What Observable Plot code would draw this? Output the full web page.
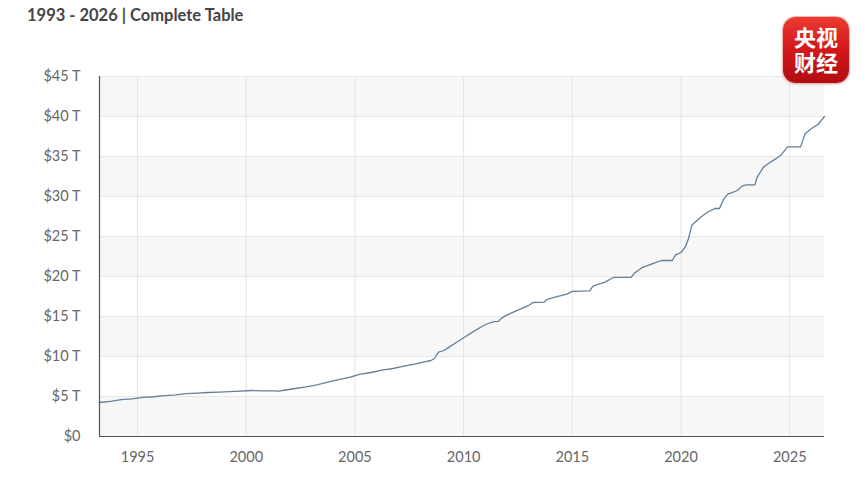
<!DOCTYPE html>
<html>
<head>
<meta charset="utf-8">
<script src="https://cdn.jsdelivr.net/npm/d3@7"></script>
<script src="https://cdn.jsdelivr.net/npm/@observablehq/plot@0.6"></script>
<style>
  @font-face { font-family: "LogoCJK"; src: local("Noto Sans CJK SC Bold"), local("NotoSansCJKsc-Bold"), local("Noto Sans CJK SC"); font-weight: 700; ascent-override: 88%; descent-override: 12%; line-gap-override: 0%; }
  html, body { margin: 0; padding: 0; background: #fff; }
  #wrap { position: relative; width: 868px; height: 481px; overflow: hidden; }
  #title { height: 40px; box-sizing: border-box; padding: 5px 0 0 27px; font-family: Lato, "Open Sans", sans-serif; font-weight: 700; font-size: 16.5px; color: #454545; line-height: 20px; }
  #logo { position: absolute; left: 783px; top: 17px; width: 66px; height: 66px; border-radius: 13px;
    background: linear-gradient(180deg, #ec3a32 0%, #d41a1c 45%, #b10d12 100%);
    box-shadow: 0 0 0 1px #f3b3b0, 0 1px 3px rgba(120,0,0,0.35);
    color: #fff; font-family: "LogoCJK", "Noto Sans CJK SC", sans-serif; font-weight: 700; font-size: 22px;
    text-align: center; box-sizing: border-box; }
  #logo div { position: absolute; left: 0; width: 66px; height: 24px; line-height: 24px; }
  svg { display: block; }
</style>
</head>
<body>
<div id="wrap">
  <div id="title">1993 - 2026 | Complete Table</div>
  <div id="logo"><div style="top:9px">央视</div><div style="top:34px">财经</div></div>
  <div id="chart"></div>
</div>
<script>
// Decimal year and total debt (trillions of dollars)
const years = [1993.25,1993.75,1994.25,1994.75,1995.25,1995.75,1996.25,1996.75,1997.25,1997.75,1998.25,1998.75,1999.25,1999.75,2000.25,2000.75,2001.25,2001.5,2001.75,2002.25,2002.75,2003.25,2003.75,2004.25,2004.75,2005.25,2005.75,2006.25,2006.75,2007.25,2007.75,2008.25,2008.5,2008.65,2008.85,2009.1,2009.4,2009.75,2010.0,2010.5,2011.0,2011.4,2011.6,2011.75,2012.0,2012.5,2013.0,2013.2,2013.7,2013.85,2014.25,2014.75,2015.0,2015.8,2015.95,2016.5,2016.9,2017.7,2017.85,2018.2,2018.7,2019.1,2019.6,2019.75,2020.0,2020.2,2020.35,2020.5,2020.9,2021.2,2021.55,2021.77,2021.95,2022.15,2022.6,2022.8,2023.0,2023.4,2023.5,2023.8,2024.0,2024.35,2024.6,2024.9,2025.5,2025.7,2026.0,2026.3,2026.6];
const debt = [4.25,4.4,4.6,4.7,4.9,4.97,5.1,5.2,5.35,5.42,5.5,5.55,5.6,5.67,5.75,5.7,5.7,5.67,5.78,6.0,6.2,6.45,6.8,7.1,7.4,7.8,8.0,8.3,8.5,8.8,9.05,9.35,9.5,9.75,10.55,10.75,11.3,11.9,12.35,13.2,14.0,14.35,14.4,14.8,15.2,15.8,16.4,16.75,16.8,17.15,17.45,17.8,18.15,18.2,18.8,19.3,19.9,19.9,20.4,21.1,21.6,22.0,22.0,22.7,23.0,23.7,24.8,26.4,27.4,28.0,28.5,28.5,29.6,30.3,30.75,31.3,31.45,31.45,32.4,33.7,34.1,34.7,35.2,36.2,36.2,37.8,38.5,39.0,40.0];
const xDomain = [1993.25, 2026.6];
const xTicks = [1995, 2000, 2005, 2010, 2015, 2020, 2025];
const yTicks = [0, 5, 10, 15, 20, 25, 30, 35, 40, 45];
const bandStarts = [0, 10, 20, 30, 40];

const data = years.map((y, i) => ({year: y, value: debt[i]}));

const chart = Plot.plot({
  width: 868,
  height: 441,
  marginTop: 36,
  marginLeft: 99,
  marginRight: 44,
  marginBottom: 45,
  style: {fontFamily: "Lato, 'Open Sans', sans-serif", fontSize: "14.5px", color: "#666", background: "#fff"},
  x: {domain: xDomain, ticks: xTicks, tickFormat: d => String(d), tickSize: 0, tickPadding: 15, label: null},
  y: {domain: [0, 45], ticks: yTicks, tickFormat: d => d === 0 ? "$0" : `$${d} T`, tickSize: 0, tickPadding: 19, label: null},
  marks: [
    Plot.rect(bandStarts, {y1: d => d, y2: d => d + 5, fill: "#f7f7f7"}),
    Plot.gridX(xTicks, {stroke: "#e4e4e4", strokeOpacity: 1}),
    Plot.gridY(yTicks, {stroke: "#e8e8e8", strokeOpacity: 1}),
    Plot.line(data, {x: "year", y: "value", stroke: "#62809b", strokeWidth: 1.3}),
    Plot.ruleX([xDomain[0]], {stroke: "#555", strokeWidth: 1.2}),
    Plot.ruleY([0], {stroke: "#555", strokeWidth: 1.2})
  ]
});
document.getElementById("chart").appendChild(chart);
</script>
</body>
</html>
